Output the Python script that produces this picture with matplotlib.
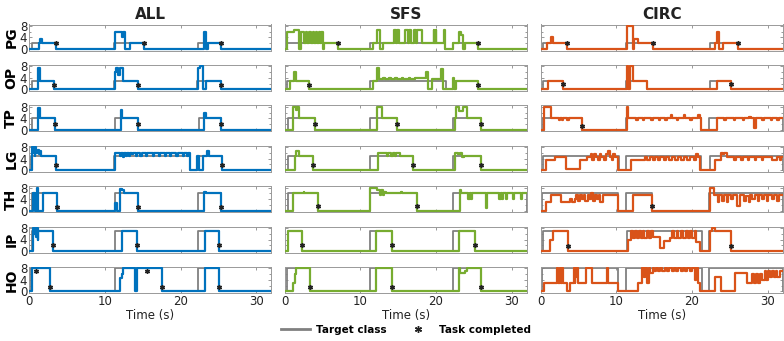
import matplotlib
matplotlib.use('Agg')
import matplotlib.pyplot as plt
from matplotlib.lines import Line2D

# rows, class levels and column names
rows = ['PG', 'OP', 'TP', 'LG', 'TH', 'IP', 'HO']
levels = [2, 3, 4, 5, 6, 7, 8]
cols = ['ALL', 'SFS', 'CIRC']
colors = ['#0072BD', '#77AC30', '#D95319']

# decoded class, as (time, class) change points
all_pg = [(1.3, 2), (1.4, 3.5), (1.65, 2), (3.5, 0), (11.3, 6), (12.2, 4), (12.35, 6), (12.7, 0), (13.3, 2),
          (15.2, 0), (23.1, 6), (23.4, 0), (23.6, 2), (25.4, 0)]
all_op = [(1.15, 7.5), (1.35, 3), (3.3, 0), (11.3, 6), (11.5, 7.5), (11.7, 5), (12.0, 7.5), (12.4, 3), (14.4, 0),
          (22.3, 7.5), (22.6, 8), (23.0, 0), (23.4, 3), (25.4, 0)]
all_tp = [(1.2, 7.5), (1.35, 4), (3.4, 0), (12.1, 7), (12.3, 4), (14.4, 0), (23.1, 6), (23.3, 4), (25.3, 0)]
all_lg = [(0.3, 8), (0.45, 6), (0.55, 8), (0.7, 5), (0.8, 8), (0.95, 6), (1.1, 7), (1.25, 5.5), (1.4, 6.5),
          (1.5, 5), (3.5, 0), (11.3, 6), (12.0, 5), (12.15, 6), (12.4, 4.5), (12.55, 6), (12.8, 5), (12.9, 6),
          (13.2, 5), (13.3, 6), (13.6, 5.5), (13.7, 6), (14.1, 5), (14.3, 6), (14.7, 5), (14.9, 6), (15.4, 5),
          (15.6, 6), (16.3, 5), (16.5, 6), (17.1, 5), (17.3, 6), (17.9, 5), (18.1, 6), (18.6, 5), (18.8, 6),
          (19.4, 5), (19.6, 6), (20.3, 5), (20.5, 6), (20.8, 5), (21.0, 6), (21.2, 0), (22.2, 5), (22.45, 0),
          (23.0, 5), (23.5, 6.5), (23.7, 5), (25.5, 0)]
all_th = [(0.55, 6), (0.7, 0), (1.05, 8), (1.2, 0), (1.75, 6), (3.7, 0), (11.35, 2.5), (11.55, 0), (12.05, 7.5),
          (12.3, 7), (12.5, 6), (14.4, 0), (23.1, 6.5), (23.3, 6), (25.3, 0)]
all_ip = [(0.5, 8), (0.65, 6), (0.75, 8), (0.9, 5), (1.0, 8), (1.1, 4), (1.2, 7), (3.1, 0), (12.2, 7), (14.2, 0),
          (23.2, 7), (25.1, 0)]
all_ho = [(0.4, 8), (2.8, 0), (12.0, 4.5), (12.2, 6), (12.4, 8), (14.0, 0), (14.2, 8), (17.5, 0), (23.2, 8),
          (25.1, 0)]

sfs_pg = [(0.3, 6), (1.2, 6.5), (1.9, 0), (2.2, 6), (2.5, 2), (2.8, 6), (3.0, 2), (3.25, 6), (3.45, 2), (3.7, 6),
          (3.9, 2), (4.1, 6), (4.3, 2), (4.5, 6), (4.7, 2), (4.85, 6), (5.05, 0), (5.2, 2), (7.0, 0), (11.7, 2),
          (12.25, 6.5), (12.65, 0), (13.0, 2), (14.4, 6.5), (14.75, 2), (14.85, 6.5), (15.15, 2), (15.85, 6.5),
          (16.3, 2), (16.45, 6.5), (16.75, 2), (17.05, 6.5), (17.4, 2), (17.5, 6.5), (18.2, 2), (19.7, 6.5),
          (19.8, 2), (19.95, 6.5), (20.05, 2), (21.0, 6.5), (21.15, 0), (22.3, 2), (23.1, 6), (23.3, 5),
          (23.55, 0), (23.8, 2), (25.5, 0)]
sfs_op = [(0.65, 3), (1.2, 6), (1.45, 3), (3.2, 0), (11.65, 3), (12.2, 7.5), (12.5, 3.5), (13.0, 4), (13.2, 3.5),
          (13.8, 4), (14.0, 3.5), (14.6, 4), (14.8, 3.5), (15.5, 4), (15.7, 3.5), (16.4, 4), (16.6, 3.5), (17.2, 4),
          (18.7, 6), (18.95, 0), (19.5, 3.5), (20.7, 7), (20.95, 0), (22.2, 4), (22.35, 0), (22.6, 3), (25.5, 0)]
sfs_tp = [(1.15, 8), (1.5, 7), (1.65, 8), (1.85, 4), (4.0, 0), (12.15, 8), (12.8, 4), (14.8, 0), (22.5, 4),
          (22.6, 8), (23.05, 6.5), (23.6, 8), (24.1, 4), (26.0, 0)]
sfs_lg = [(1.35, 5), (1.5, 6.5), (1.95, 5), (3.8, 0), (12.4, 6), (13.5, 5), (13.7, 6), (14.1, 5), (14.3, 6),
          (14.6, 5), (14.75, 6), (15.2, 5), (17.0, 0), (22.5, 6), (22.9, 5.5), (23.2, 6), (23.4, 4.5), (23.7, 5),
          (26.0, 0)]
sfs_th = [(1.15, 6), (2.5, 6.5), (2.6, 6), (4.45, 0), (11.3, 8), (12.25, 7), (12.6, 5.5), (12.75, 7), (13.0, 5.5),
          (13.15, 6.5), (13.4, 6), (15.4, 6.5), (15.5, 6), (17.45, 0), (23.15, 7), (23.35, 6), (24.3, 4),
          (24.45, 6), (24.65, 4), (24.8, 6), (26.6, 1), (26.8, 6), (28.4, 4), (28.55, 6), (28.75, 4), (28.9, 6),
          (29.2, 4), (29.35, 6), (30.2, 4), (30.35, 6), (31.2, 4), (31.35, 6)]
sfs_ip = [(0.5, 7), (2.25, 0), (12.05, 7), (14.15, 0), (23.1, 7), (25.15, 0)]
sfs_ho = [(1.15, 3), (1.3, 6), (1.55, 8), (3.3, 0), (12.05, 8), (14.15, 0), (23.1, 8), (23.2, 6.5), (23.8, 7),
          (24.05, 8), (26.0, 0)]

circ_pg = [(0.8, 2), (1.3, 4), (1.6, 2), (3.45, 0), (11.35, 8), (12.15, 0), (12.4, 3.5), (12.9, 2), (14.8, 0),
           (23.05, 2), (23.25, 6), (23.6, 0), (24.1, 2), (26.1, 0)]
circ_op = [(1.0, 3), (3.0, 0), (11.35, 8), (11.6, 0), (11.8, 8), (12.25, 3), (14.0, 0), (23.25, 3), (25.1, 0)]
circ_tp = [(0.45, 8), (1.4, 4), (2.4, 3.3), (2.55, 4), (2.85, 3.3), (3.0, 4), (3.5, 3.3), (3.7, 4), (5.4, 0),
           (11.35, 8), (11.5, 4), (12.6, 3.3), (12.8, 4), (13.5, 3.3), (13.65, 4), (14.6, 3.3), (14.8, 4),
           (15.6, 3.3), (15.75, 4), (16.5, 3.3), (16.7, 4), (17.2, 5), (17.35, 4), (18.0, 3.3), (18.2, 4),
           (18.95, 5), (19.1, 4), (19.8, 3.3), (19.95, 4), (20.85, 5), (21.0, 4), (21.2, 0), (23.3, 4), (24.3, 3.3),
           (24.5, 4), (25.5, 3.3), (25.7, 4), (26.7, 3.3), (26.9, 4), (27.6, 4.5), (27.8, 4), (28.2, 0.5),
           (28.5, 4), (29.3, 3.3), (29.5, 4), (30.4, 3.3), (30.6, 4), (31.3, 3.3), (31.5, 4)]
circ_lg = [(0.75, 3.5), (1.85, 4.5), (3.3, 0.5), (5.2, 3.5), (6.1, 4.5), (6.6, 5.5), (6.8, 3.5), (7.1, 5.5),
           (7.3, 4.5), (7.6, 3.5), (7.8, 5.5), (8.0, 4.5), (8.4, 3.5), (8.6, 5.5), (8.9, 6.5), (9.1, 4.5),
           (9.4, 3.5), (9.6, 5.5), (9.8, 4.5), (10.25, 0), (12.0, 3.5), (13.8, 4.5), (14.1, 3.5), (14.4, 4.5),
           (14.8, 3.5), (15.1, 4.5), (15.5, 3.5), (15.8, 4.5), (16.3, 3.5), (16.6, 4.5), (17.0, 3.5), (17.3, 4.5),
           (17.8, 3.5), (18.1, 4.5), (18.6, 3.5), (18.9, 4.5), (19.4, 3.5), (19.7, 4.5), (20.3, 3.5), (20.5, 5.5),
           (20.8, 4.5), (21.1, 0), (23.1, 3.5), (23.8, 6), (24.1, 5.5), (24.3, 6), (24.6, 4.5), (25.6, 3.5),
           (25.8, 4.5), (26.5, 3.5), (26.7, 4.5), (27.4, 3.5), (27.6, 4.5), (28.3, 3.5), (28.5, 4.5), (29.2, 3.5),
           (29.4, 4.5), (30.6, 3.5), (31.3, 4.5), (31.6, 3.5), (31.8, 4.5)]
circ_th = [(0.75, 3), (1.4, 5.5), (2.75, 3), (3.9, 4), (4.1, 3), (4.5, 4), (4.7, 5.5), (4.9, 3.5), (5.2, 5.5),
           (5.4, 4), (5.7, 5.5), (5.9, 3.5), (6.2, 5.5), (6.4, 4), (6.7, 6), (6.9, 3.5), (7.2, 5.5), (7.4, 4),
           (7.7, 5.5), (7.9, 3), (8.2, 5.5), (10.25, 0), (12.25, 5.5), (14.7, 0), (22.4, 8), (22.9, 5.5), (23.4, 3),
           (23.6, 5.5), (24.0, 3.5), (24.2, 5.5), (24.6, 3), (24.8, 5.5), (25.2, 4), (25.4, 5.5), (26.0, 1.5),
           (26.3, 5.5), (26.9, 3.5), (27.1, 5), (27.5, 3), (27.7, 5.5), (28.0, 4), (28.3, 5.5), (28.7, 3.5),
           (28.9, 5.5), (29.3, 4), (29.5, 5.5), (29.9, 3.5), (30.1, 5.5), (30.6, 4), (30.8, 5.5), (31.3, 3.5),
           (31.5, 5.5)]
circ_ip = [(1.2, 4), (1.65, 7), (3.55, 0), (11.5, 4), (12.0, 7), (12.2, 4.5), (12.5, 7), (12.7, 4.5), (13.0, 7),
           (13.2, 4.5), (13.5, 7), (13.7, 4.5), (14.0, 7), (14.3, 4.5), (14.6, 7), (14.8, 5), (15.8, 1),
           (16.3, 3.5), (17.1, 4.5), (17.4, 7), (17.6, 4.5), (18.0, 7), (18.2, 4.5), (18.6, 7), (18.8, 4.5),
           (19.2, 7), (19.5, 4.5), (19.8, 7), (20.0, 4.5), (20.4, 7), (20.6, 3), (21.0, 0), (22.45, 7), (22.65, 8),
           (23.1, 7), (25.1, 0)]
circ_ho = [(0.45, 3), (2.2, 8), (2.35, 3), (2.5, 8), (2.7, 3), (2.8, 8), (2.95, 3), (3.5, 0), (3.85, 3), (4.4, 8),
           (4.5, 3), (4.6, 8), (4.75, 5), (4.85, 8), (4.95, 3), (6.05, 8), (6.8, 3), (8.8, 8), (8.95, 3),
           (10.25, 0), (12.9, 3), (13.4, 8), (13.6, 5), (13.8, 8), (14.0, 3), (14.3, 8), (14.5, 6.5), (14.8, 8),
           (15.0, 7), (15.3, 8), (15.5, 7), (15.8, 8), (16.1, 7), (16.4, 8), (16.7, 7), (17.0, 8), (17.3, 7),
           (17.6, 8), (17.9, 7), (18.2, 8), (18.5, 7), (18.8, 8), (19.1, 7), (19.4, 8), (19.7, 7), (20.0, 8),
           (20.4, 4), (20.6, 8), (20.8, 3), (21.1, 0), (23.1, 5), (23.8, 0), (25.75, 6.5), (27.3, 3), (28.0, 6),
           (28.2, 3), (28.5, 6), (28.7, 3), (29.0, 6), (29.3, 4), (29.6, 7), (29.8, 4), (30.1, 7), (30.3, 5),
           (30.6, 7), (30.8, 5), (31.1, 7), (31.3, 5), (31.6, 7)]

# target class windows (start, end) in seconds
all_tgt = [[(0.3, 3.5), (11.2, 15.2), (22.3, 25.4)], [(0.3, 3.3), (11.2, 14.4), (22.2, 25.4)],
           [(0.4, 3.4), (11.3, 14.4), (22.4, 25.3)], [(0.2, 3.5), (11.2, 21.2), (22.3, 25.5)],
           [(0.4, 3.7), (11.3, 14.4), (22.3, 25.3)], [(0.3, 3.1), (11.3, 14.2), (22.3, 25.1)],
           [(0.2, 2.8), (11.3, 17.5), (22.3, 25.1)]]
sfs_tgt = [[(0.3, 7.0), (11.3, 21.2), (22.3, 25.5)], [(0.3, 3.2), (11.3, 21.3), (22.2, 25.5)],
           [(0.5, 4.0), (11.3, 14.8), (22.3, 26.0)], [(0.5, 3.8), (11.3, 17.0), (22.3, 26.0)],
           [(0.5, 4.45), (11.3, 17.45), (22.3, 32)], [(0.5, 2.25), (11.3, 14.15), (22.3, 25.15)],
           [(0.35, 3.3), (11.3, 14.15), (22.3, 26.0)]]
circ_tgt = [[(0.35, 3.45), (11.3, 14.8), (22.4, 26.1)], [(0.25, 3.0), (11.3, 14.0), (22.4, 25.1)],
            [(0.2, 5.4), (11.3, 21.2), (22.2, 32)], [(0.3, 10.3), (11.3, 21.2), (22.4, 32)],
            [(0.2, 10.25), (11.25, 14.7), (22.2, 32)], [(0.3, 3.55), (11.35, 21.3), (22.3, 25.1)],
            [(0.2, 10.25), (11.25, 21.3), (22.3, 32)]]

# task completed markers (time, class)
all_done = [[(3.5, 2), (15.2, 2), (25.4, 2)], [(3.3, 1.5), (14.4, 1.5), (25.4, 1.5)],
            [(3.4, 2), (14.4, 2), (25.3, 2)], [(3.5, 1.7), (25.5, 1.7)],
            [(3.7, 1.4), (14.4, 1.4), (25.3, 1.4)], [(3.1, 2.2), (14.2, 2.2), (25.1, 2.2)],
            [(0.9, 7), (2.8, 1.5), (15.6, 7), (17.5, 1.5), (25.1, 1.5)]]
sfs_done = [[(7.0, 2), (25.5, 2)], [(3.2, 1.5), (25.5, 1.5)], [(4.0, 2), (14.8, 2), (26.0, 2)],
            [(3.8, 1.7), (17.0, 1.7), (26.0, 1.7)], [(4.45, 1.5), (17.45, 1.5)],
            [(2.25, 2), (14.15, 2), (25.15, 2)], [(3.3, 1.5), (14.15, 1.5), (26.0, 1.5)]]
circ_done = [[(3.45, 2), (14.8, 2), (26.1, 2)], [(3.0, 1.8), (25.1, 1.8)], [(5.4, 1.5)], [],
             [(14.7, 1.5)], [(3.55, 1.8), (25.1, 1.8)], []]

outputs = [[all_pg, all_op, all_tp, all_lg, all_th, all_ip, all_ho],
           [sfs_pg, sfs_op, sfs_tp, sfs_lg, sfs_th, sfs_ip, sfs_ho],
           [circ_pg, circ_op, circ_tp, circ_lg, circ_th, circ_ip, circ_ho]]
targets = [all_tgt, sfs_tgt, circ_tgt]
done = [all_done, sfs_done, circ_done]

T_END = 32


def step_xy(points):
    t = [0] + [p[0] for p in points] + [T_END]
    y = [0] + [p[1] for p in points]
    y.append(y[-1])
    return t, y


def target_xy(windows, level):
    t, y = [0], [0]
    for a, b in windows:
        t += [a, b]
        y += [level, 0]
    t.append(T_END)
    y.append(y[-1])
    return t, y


fig = plt.figure(figsize=(7.84, 3.41), dpi=100)
W, H = 784, 341
col_left = [29.3, 284.7, 540.7]
ax_w = 242
row_top = [24.5, 64.9, 105.3, 145.7, 186.1, 226.5, 266.9]
ax_h = 26

for c in range(3):
    for r in range(7):
        ax = fig.add_axes([col_left[c] / W, 1 - (row_top[r] + ax_h) / H, ax_w / W, ax_h / H])
        tt, ty = target_xy(targets[c][r], levels[r])
        ax.step(tt, ty, where='post', color='#808080', lw=1.3, zorder=2)
        ot, oy = step_xy(outputs[c][r])
        ax.step(ot, oy, where='post', color=colors[c], lw=1.6, zorder=3)
        if done[c][r]:
            ax.plot([d[0] for d in done[c][r]], [d[1] for d in done[c][r]], ls='none',
                    marker=(6, 2, 0), ms=3.5, mew=1, color='#222222', zorder=4)
        ax.set_xlim(0, T_END)
        ax.set_ylim(-0.5, 8.5)
        ax.set_xticks([0, 10, 20, 30])
        ax.set_yticks([0, 4, 8])
        ax.set_yticks([2, 6], minor=True)
        ax.tick_params(which='both', direction='in', length=2.5, width=0.6, color='#888888',
                       top=True, right=True, labelsize=8.5, pad=1.5, labelcolor='#222222')
        ax.tick_params(which='minor', length=1.5)
        for s in ax.spines.values():
            s.set_color('#999999')
            s.set_linewidth(0.7)
        if c > 0:
            ax.set_yticklabels([])
        else:
            ax.set_ylabel(rows[r], fontsize=10, fontweight='bold', labelpad=1)
        if r < 6:
            ax.set_xticklabels([])
        else:
            ax.set_xlabel('Time (s)', fontsize=8.5, labelpad=1, color='#222222')
        if r == 0:
            ax.set_title(cols[c], fontsize=11, fontweight='bold', pad=4, color='#222222')

handles = [Line2D([], [], color='#808080', lw=2),
           Line2D([], [], ls='none', marker=(6, 2, 0), ms=5, mew=1, color='#222222')]
fig.legend(handles, ['Target class', 'Task completed'], loc='center', bbox_to_anchor=(0.518, 0.032),
           ncol=2, frameon=False, prop={'weight': 'bold', 'size': 7.5}, handlelength=2.8,
           columnspacing=1.6, handletextpad=0.6)

fig.savefig('out.png', dpi=100)
